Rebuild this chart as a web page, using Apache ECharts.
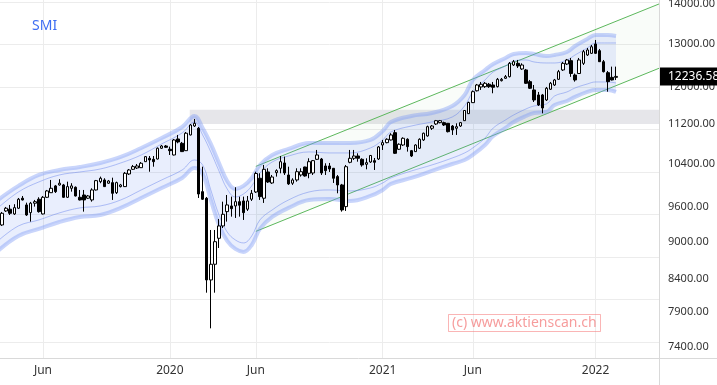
<!DOCTYPE html>
<html><head><meta charset="utf-8">
<script src="https://cdn.jsdelivr.net/npm/echarts@6/dist/echarts.min.js"></script>
<style>html,body{margin:0;padding:0;background:#fff}#c{width:717px;height:385px}</style>
</head><body><div id="c"></div>
<script>
// ---- DATA (weekly SMI candles, first week starts 2019-03-25) ----
const firstWeek = '2019-03-25';
const opens = [9284,9529,9560,9476,9577,9757,9636,9499,9667,9739,9476,9774,9858,9983,10001,10001,9774,9939,9958,9774,
9816,9757,9726,9908,10062,10094,10033,10044,9858,9970,9970,10207,10296,10321,10327,10443,10509,10489,10495,10707,
10752,10687,10574,10893,10806,10659,10975,11159,11112,9877,9757,8382,8630,9057,9267,9517,9618,9618,9695,9708,
9560,9739,9871,10126,9757,10245,10038,10232,10315,10418,10188,10033,10094,10188,10340,10220,10226,10489,10495,10360,
10360,10315,10157,10001,9606,10431,10509,10554,10489,10392,10437,10463,10495,10772,10819,10873,11022,10687,10772,10887,
10659,10640,10707,10873,10955,11112,11201,11229,11229,11215,11159,11112,11159,11270,11418,11654,11914,11999,12006,12059,
12043,12006,12140,12194,12231,12499,12538,12407,12384,12118,11932,11822,11822,11712,11948,12043,12171,12384,12522,12600,
12269,12303,12538,12734,12773,12997,12836,12576,12322,12215,12215];
const closes = [9488,9577,9488,9588,9739,9726,9458,9667,9695,9517,9774,9890,9939,9877,10033,9774,9970,9983,9798,9726,
9726,9798,9908,10081,10126,9970,10075,9847,10044,10001,10220,10283,10347,10360,10412,10541,10476,10443,10707,10752,
10726,10659,10873,10833,10640,11010,11180,11215,9834,9739,8382,8630,9000,9267,9470,9636,9570,9695,9631,9499,
9708,9847,10216,9786,10296,10056,10150,10270,10443,10226,10020,10094,10250,10250,10169,10443,10463,10574,10226,10270,
10302,10126,10001,9547,10346,10509,10554,10509,10379,10424,10564,10431,10733,10819,10887,10975,10607,10786,10907,10739,
10554,10772,10887,11010,11145,11159,11270,11270,11180,11042,11077,11145,11229,11485,11658,11894,12043,12059,12081,12006,
11992,12171,12171,12231,12538,12576,12476,12499,12081,11970,11712,11604,11539,11970,12081,12156,12345,12538,12616,12303,
12156,12616,12812,12853,12930,12773,12576,12345,12118,12156,12236.58];
const lows = [9267,9511,9458,9458,9565,9717,9441,9342,9606,9499,9467,9762,9853,9853,9988,9762,9762,9877,9789,9717,
9517,9744,9695,9899,10033,9964,10020,9726,9834,9955,9964,10188,10283,10302,10321,10437,10250,10346,10486,10693,
10713,10574,10564,10806,10634,10653,10965,11139,9762,9726,8186,7661,8186,8895,9232,9342,9429,9406,9429,9371,
9529,9708,9853,9726,9672,10038,10020,10157,10220,10188,10001,10001,10062,10157,10157,10126,10188,10476,10188,10188,
10245,10038,9847,9517,9529,10412,10476,10443,10346,10296,10418,10283,10476,10673,10806,10863,10594,10673,10752,10640,
10534,10634,10693,10853,10941,11077,11180,11215,11159,11026,10975,10975,11139,11268,11411,11647,11899,11932,11977,11977,
11859,11988,12122,12179,12213,12476,12430,12384,12066,11954,11669,11583,11425,11690,11932,12021,12156,12361,12499,12227,
12118,12291,12499,12710,12757,12757,12569,12327,11894,12145,12156];
const highs = [9511,9600,9636,9649,9762,9798,9677,9690,9726,9774,9798,9908,10094,10001,10107,10020,10062,10033,9973,9908,
9908,9816,9939,10094,10157,10126,10094,10137,10062,10020,10245,10302,10379,10398,10437,10554,10554,10554,10723,10772,
10772,10739,10893,10975,10833,11036,11201,11306,11139,10346,9780,9198,9198,9388,9695,9816,9786,9958,9786,9786,
9798,9908,10250,10220,10379,10315,10188,10296,10554,10541,10346,10126,10315,10315,10346,10509,10476,10673,10515,10412,
10418,10321,10188,10020,10379,10673,10673,10607,10509,10509,10574,10515,10752,10873,10907,11010,11077,10806,10927,10907,
10673,10786,10907,11022,11166,11180,11285,11285,11249,11222,11180,11215,11243,11496,11675,11921,12066,12111,12111,12088,
12111,12201,12201,12269,12569,12616,12616,12538,12407,12156,12043,11888,11844,11999,12111,12179,12384,12569,12640,12663,
12303,12663,12853,12901,12973,13094,12877,12616,12361,12461,12461];

// envelope band
const bandDates = ['2019-03-18','2019-04-22','2019-05-27','2019-07-01','2019-08-05','2019-09-09','2019-10-14','2019-11-18','2019-12-23',
'2020-01-27','2020-02-17','2020-03-02','2020-03-16','2020-03-30','2020-04-13','2020-04-27','2020-05-11','2020-05-25','2020-06-08','2020-06-29','2020-07-27','2020-08-31','2020-10-05','2020-11-09','2020-12-14',
'2021-01-04','2021-01-18','2021-02-22','2021-03-29','2021-05-03','2021-05-24','2021-06-07','2021-06-28','2021-07-12','2021-08-02','2021-08-16','2021-09-06','2021-09-20','2021-10-11','2021-10-25','2021-11-15','2021-11-29','2021-12-20',
'2022-01-03','2022-01-24','2022-02-07'];
const bandOuterUpper = [9726,9983,10188,10283,10340,10418,10535,10713,10913,11139,11369,11118,10793,10418,10075,9927,9983,10132,10379,10574,10693,10813,10813,10813,10873,11057,11243,11369,11432,11583,11822,12156,12384,12522,12663,12757,12781,12757,12710,12734,12805,12949,13118,13216,13216,13192];
const bandInnerUpper = [9583,9871,10057,10188,10245,10302,10418,10574,10793,11016,11243,10975,10634,10264,9927,9780,9835,9983,10226,10437,10554,10634,10614,10614,10713,10873,11036,11159,11243,11348,11583,11888,12156,12338,12476,12593,12616,12569,12546,12546,12616,12734,12901,13021,13021,13021];
const bandInnerLower = [9012,9267,9371,9494,9583,9618,9726,9908,10094,10283,10476,10379,9908,9458,9164,9029,8979,9096,9371,9547,9726,9871,9908,9890,9945,10038,10132,10264,10379,10515,10614,10713,10913,11118,11285,11390,11518,11583,11626,11800,11888,11977,12066,12111,12111,12088];
const bandOuterLower = [8846,9096,9216,9336,9423,9458,9583,9762,9945,10132,10321,10207,9726,9284,9012,8879,8829,8945,9216,9423,9583,9726,9744,9708,9798,9908,10020,10132,10264,10398,10476,10574,10772,10955,11118,11243,11369,11432,11454,11604,11690,11779,11888,11932,11932,11888];

// trend channel
const channelDates = ['2020-06-01','2022-04-21T12:00'];
const channelUpper = [10352, 14000];
const channelLower = [9174, 12423];

// resistance zone
const zoneDates = ['2020-02-09','2022-04-21T12:00'];
const zoneValues = [11500, 11200];

const yTickValues = [14000, 13000, 12000, 11200, 10400, 9600, 9000, 8400, 7900, 7400];
const xTickDates = ['2019-06-03','2020-01-06','2020-06-01','2021-01-04','2021-06-07','2022-01-03'];
const lastPrice = 12236.58;
const xRange = ['2019-03-21T12:00','2022-04-21T12:00'];
const yRange = [7250, 14104];

// ---- helpers ----
const DAY = 86400000;
function ts(s){const p=s.split('T');const d=p[0].split('-').map(Number);let h=0,m=0;if(p[1]){const t=p[1].split(':').map(Number);h=t[0];m=t[1];}return Date.UTC(d[0],d[1]-1,d[2],h,m);}
const MONTHS=['Jan','Feb','Mar','Apr','May','Jun','Jul','Aug','Sep','Oct','Nov','Dec'];
const FONT='"Noto Sans","Liberation Sans",sans-serif';
const SMOOTH=0.4;

// sample a smooth curve through pixel points (same style of control points as ECharts line smoothing)
function smoothPoints(pts, s){
  const out=[];
  const cp=(prev,p,next)=>{
    const vx=next[0]-prev[0], vy=next[1]-prev[1];
    const l1=Math.hypot(p[0]-prev[0],p[1]-prev[1]), l2=Math.hypot(next[0]-p[0],next[1]-p[1]);
    const tot=(l1+l2)||1;
    return {b:[p[0]-vx*s*l1/tot, p[1]-vy*s*l1/tot], f:[p[0]+vx*s*l2/tot, p[1]+vy*s*l2/tot]};
  };
  for(let i=0;i<pts.length-1;i++){
    const p0=pts[i], p1=pts[i+1];
    const c0=cp(pts[i-1]||p0,p0,p1).f, c1=cp(p0,p1,pts[i+2]||p1).b;
    for(let k=0;k<10;k++){
      const t=k/10, u=1-t;
      out.push([u*u*u*p0[0]+3*u*u*t*c0[0]+3*u*t*t*c1[0]+t*t*t*p1[0],
                u*u*u*p0[1]+3*u*u*t*c0[1]+3*u*t*t*c1[1]+t*t*t*p1[1]]);
    }
  }
  out.push(pts[pts.length-1]);
  return out;
}

const candles = opens.map((o,i)=>[ts(firstWeek)+i*7*DAY, o, closes[i], lows[i], highs[i]]);
const bT = bandDates.map(ts);
const cT = channelDates.map(ts);
const xTicks = xTickDates.map(ts);

const outerCol='rgba(120,150,245,0.40)';
const innerCol='rgba(95,125,235,0.45)';
const green='#5cb85c';
const clear='rgba(0,0,0,0)';

const chart = echarts.init(document.getElementById('c'), null, {renderer:'canvas'});
chart.setOption({
  animation:false,
  backgroundColor:'#fff',
  title:[
    {text:'SMI', left:32, top:19, padding:0, textStyle:{color:'#3d6df2', fontSize:14, fontWeight:'normal', fontFamily:FONT}},
    {text:'(c) www.aktienscan.ch', left:448, top:314, padding:[2,4,2,4], borderColor:'rgba(245,120,120,0.55)', borderWidth:1,
     textStyle:{color:'rgba(240,90,90,0.6)', fontSize:14, fontWeight:'normal', fontFamily:FONT}}
  ],
  grid:[{left:0,right:58,top:0,bottom:27},{left:0,right:58,top:2,bottom:43}],
  xAxis:[
    {type:'value', gridIndex:0, min:ts(xRange[0]), max:ts(xRange[1]),
     axisLine:{show:false}, axisTick:{show:false, customValues:xTicks},
     splitLine:{show:true, lineStyle:{color:'#ececec'}},
     axisLabel:{customValues:xTicks, color:'#333', fontSize:12, fontFamily:FONT, margin:7,
       formatter:v=>{const d=new Date(v);return d.getUTCMonth()===0?String(d.getUTCFullYear()):MONTHS[d.getUTCMonth()];}}},
    {type:'value', gridIndex:1, min:0, max:1, show:false}
  ],
  yAxis:[
    {type:'log', gridIndex:0, min:yRange[0], max:yRange[1], position:'right',
     axisLine:{show:false}, axisTick:{show:false}, axisLabel:{show:false}, splitLine:{show:false}},
    {type:'value', gridIndex:1, min:0, max:8, interval:1, position:'right',
     axisLine:{show:false}, axisTick:{show:false}, axisLabel:{show:false},
     splitLine:{show:true, lineStyle:{color:'#ececec'}}}
  ],
  graphic:[
    {type:'line', shape:{x1:659.5,y1:0,x2:659.5,y2:385}, style:{stroke:'#d9d9d9',lineWidth:1}, z:10},
    {type:'line', shape:{x1:0,y1:358.5,x2:717,y2:358.5}, style:{stroke:'#d9d9d9',lineWidth:1}, z:10}
  ],
  series:[
    // channel fill + grey zone
    {type:'custom', z:2, silent:true, clip:true, data:[[cT[0], channelLower[0]]],
     renderItem:(params, api)=>{
       const pts=[api.coord([cT[0],channelUpper[0]]), api.coord([cT[1],channelUpper[1]]),
                  api.coord([cT[1],channelLower[1]]), api.coord([cT[0],channelLower[0]])];
       return {type:'polygon', shape:{points:pts}, style:{fill:'rgba(92,184,92,0.04)'}};
     },
     markArea:{silent:true, z:1, itemStyle:{color:'#e6e6ea'},
       data:[[{xAxis:ts(zoneDates[0]), yAxis:zoneValues[0]},{xAxis:ts(zoneDates[1]), yAxis:zoneValues[1]}]]}},
    {type:'line', z:2, symbol:'none', silent:true, data:cT.map((t,k)=>[t,channelUpper[k]]), lineStyle:{color:green,width:1}},
    {type:'line', z:2, symbol:'none', silent:true, data:cT.map((t,k)=>[t,channelLower[k]]), lineStyle:{color:green,width:1}},
    // band fill
    {type:'custom', z:3, silent:true, clip:true, data:[[bT[0], bandOuterUpper[0]]],
     renderItem:(params, api)=>{
       const up=smoothPoints(bT.map((t,k)=>api.coord([t,bandOuterUpper[k]])), SMOOTH);
       const lo=smoothPoints(bT.map((t,k)=>api.coord([t,bandOuterLower[k]])), SMOOTH).reverse();
       return {type:'polygon', shape:{points:up.concat(lo)}, style:{fill:'rgba(110,140,240,0.15)'}};
     }},
    {type:'line', z:3, symbol:'none', smooth:SMOOTH, silent:true, data:bT.map((t,k)=>[t,bandOuterUpper[k]]), lineStyle:{color:outerCol,width:4}},
    {type:'line', z:3, symbol:'none', smooth:SMOOTH, silent:true, data:bT.map((t,k)=>[t,bandOuterLower[k]]), lineStyle:{color:outerCol,width:4}},
    {type:'line', z:3, symbol:'none', smooth:SMOOTH, silent:true, data:bT.map((t,k)=>[t,bandInnerUpper[k]]), lineStyle:{color:innerCol,width:1}},
    {type:'line', z:3, symbol:'none', smooth:SMOOTH, silent:true, data:bT.map((t,k)=>[t,bandInnerLower[k]]), lineStyle:{color:innerCol,width:1},
     markLine:{silent:true, z:6, symbol:['none','none'], animation:false, lineStyle:{color:clear, width:0},
       label:{show:true, position:'end', distance:9, color:'#333', fontSize:11, fontFamily:FONT, formatter:p=>Number(p.value).toFixed(2)},
       data:yTickValues.map(v=>({yAxis:v})).concat([{yAxis:lastPrice,
         label:{show:true, position:'end', distance:0, color:'#fff', backgroundColor:'#000', padding:[3,10,3,9], fontSize:12, fontFamily:FONT,
                formatter:p=>Number(p.value).toFixed(2)}}])}},
    // candles
    {type:'candlestick', name:'SMI', z:4, barWidth:3, silent:true, data:candles,
     itemStyle:{color:'#fff', color0:'#000', borderColor:'#000', borderColor0:'#000', borderWidth:1}}
  ]
});
</script></body></html>
